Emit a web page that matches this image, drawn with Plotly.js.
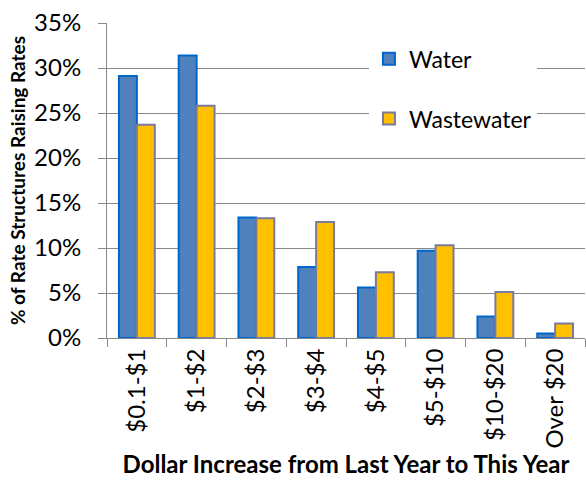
<!DOCTYPE html>
<html>
<head>
<meta charset="utf-8">
<script src="https://cdn.plot.ly/plotly-3.0.1.min.js"></script>
<style>html,body{margin:0;padding:0;background:#fff;}#chart{width:586px;height:496px;}</style>
</head>
<body>
<div id="chart"></div>
<script>
const categories = ["$0.1-$1", "$1-$2", "$2-$3", "$3-$4", "$4-$5", "$5-$10", "$10-$20", "Over $20"];
const water = [0.291, 0.314, 0.134, 0.079, 0.056, 0.097, 0.024, 0.005];
const wastewater = [0.237, 0.258, 0.133, 0.129, 0.073, 0.103, 0.051, 0.016];
const seriesNames = ["Water", "Wastewater"];

const font = "Lato, 'Open Sans', sans-serif";

const traces = [
  {type: "bar", x: categories, y: water, name: seriesNames[0], legendgroup: "a",
   marker: {color: "#4F81BD", line: {color: "#0066CC", width: 2}}},
  {type: "bar", x: categories, y: wastewater, name: seriesNames[1], legendgroup: "b",
   marker: {color: "#FFC000", line: {color: "#7A7A9E", width: 2}}}
];

const layout = {
  width: 586, height: 496,
  margin: {l: 107, r: 1, t: 23, b: 158},
  paper_bgcolor: "#fff", plot_bgcolor: "#fff",
  font: {family: font, color: "#000"},
  barmode: "group", bargap: 0.4, bargroupgap: 0,
  showlegend: true,
  legend: {x: 0.548, y: 0.955, xanchor: "left", yanchor: "top", bgcolor: "#fff",
           font: {size: 23, family: font}, tracegroupgap: 27, traceorder: "grouped"},
  xaxis: {
    type: "category", tickangle: -90, tickfont: {size: 24, family: font},
    showline: true, linecolor: "#888", linewidth: 1,
    ticks: "outside", tickson: "boundaries", ticklen: 8, tickcolor: "#888",
    showgrid: false, automargin: false,
    title: {text: "<b>Dollar Increase from Last Year to This Year</b>", font: {size: 24, family: font}, standoff: 2}
  },
  yaxis: {
    range: [0, 0.35], dtick: 0.05, tickformat: ".0%",
    tickfont: {size: 24, family: font}, ticklabelstandoff: 12,
    showline: true, linecolor: "#888", linewidth: 1,
    ticks: "outside", ticklen: 8, tickcolor: "#888",
    showgrid: true, gridcolor: "#888", gridwidth: 1, zeroline: false, automargin: false,
    title: {text: "<b>% of Rate Structures Raising Rates</b>", font: {size: 19, family: font}, standoff: 3}
  }
};

Plotly.newPlot("chart", traces, layout, {displayModeBar: false});
</script>
</body>
</html>
